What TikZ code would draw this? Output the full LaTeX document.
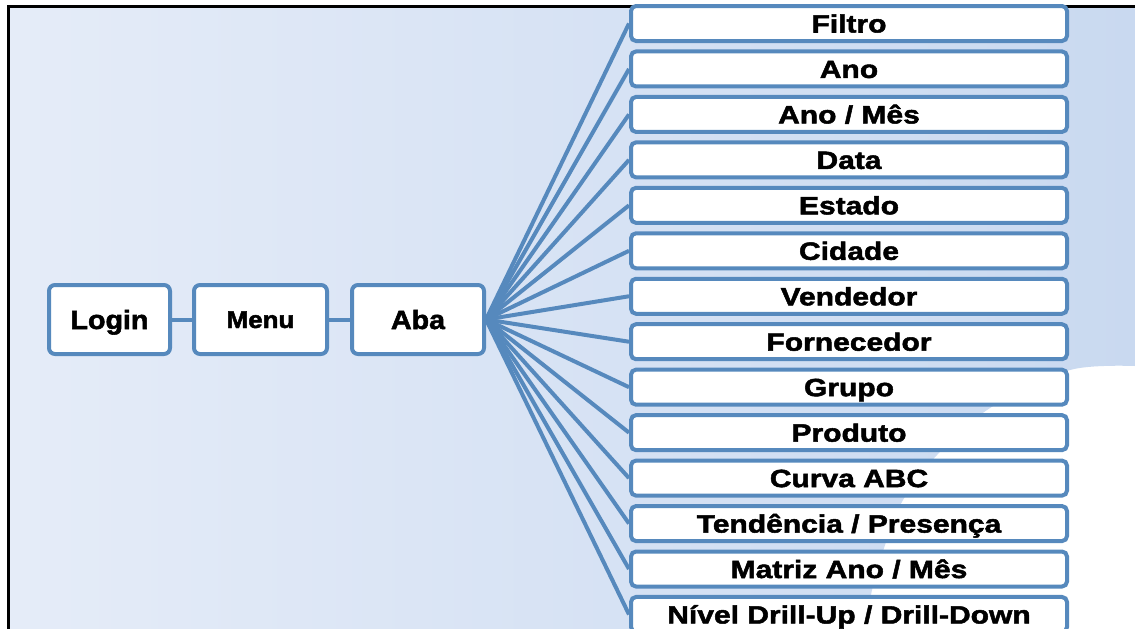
\documentclass[tikz,border=0pt]{standalone}
\usepackage{fontspec}
\newfontfamily\stagefont{Liberation Sans}[FakeStretch=1.08, BoldFeatures={FakeBold=2}]
\newfontfamily\filterfont{Liberation Sans}[FakeStretch=1.2, BoldFeatures={FakeBold=2}]
\definecolor{linkblue}{RGB}{86,137,189}
\definecolor{bgleft}{RGB}{229,236,248}
\definecolor{bgright}{RGB}{201,217,240}
\begin{document}
\begin{tikzpicture}[x=1pt,y=-1pt,
  stage/.style={draw=linkblue, line width=4pt, fill=white, rounded corners=6pt,
    minimum height=69pt, inner sep=0pt, text height=19pt, text depth=0pt,
    font=\stagefont\bfseries\fontsize{26.5}{30}\selectfont},
  filter/.style={draw=linkblue, line width=4pt, fill=white, rounded corners=5pt,
    minimum width=436pt, minimum height=35pt, inner sep=0pt,
    text height=18pt, text depth=0pt,
    font=\filterfont\bfseries\fontsize{25}{28}\selectfont},
  link/.style={draw=linkblue, line width=4pt}]
  \useasboundingbox (0,0) rectangle (1135,629);
  \fill[white] (0,0) rectangle (1135,629);
  % shaded backdrop with its curved lower-right edge
  \shade[left color=bgleft, right color=bgright]
    (10,8) -- (1135,8) -- plot[smooth] coordinates
      {(1135,366) (1070,370) (990,408) (937,455) (903,500) (885,545) (872,590) (866,629)}
    -- (10,629) -- cycle;
  % frame on the left and top
  \draw[line width=3pt, line join=miter] (8.5,629) -- (8.5,6.5) -- (1135,6.5);
  % navigation chain
  \node[stage, minimum width=121pt] (login) at (109.5,319.5) {Login};
  \node[stage, minimum width=133pt, text height=17pt,
    font=\stagefont\bfseries\fontsize{24}{28}\selectfont] (menu) at (260.5,319.5) {Menu};
  \node[stage, minimum width=132pt] (aba) at (418,319.5) {Aba};
  \draw[link] (login) -- (menu);
  \draw[link] (menu) -- (aba);
  % filters reachable from the tab
  \foreach \t [count=\i from 0] in {Filtro, Ano, Ano / Mês, Data, Estado, Cidade, Vendedor,
      Fornecedor, Grupo, Produto, Curva ABC, Tendência / Presença, Matriz Ano / Mês,
      Nível Drill-Up / Drill-Down} {
    \node[filter] (f\i) at (849,{23.5+45.46*\i}) {\t};
    \draw[link] (aba.east) -- (f\i.west);
  }
\end{tikzpicture}
\end{document}
